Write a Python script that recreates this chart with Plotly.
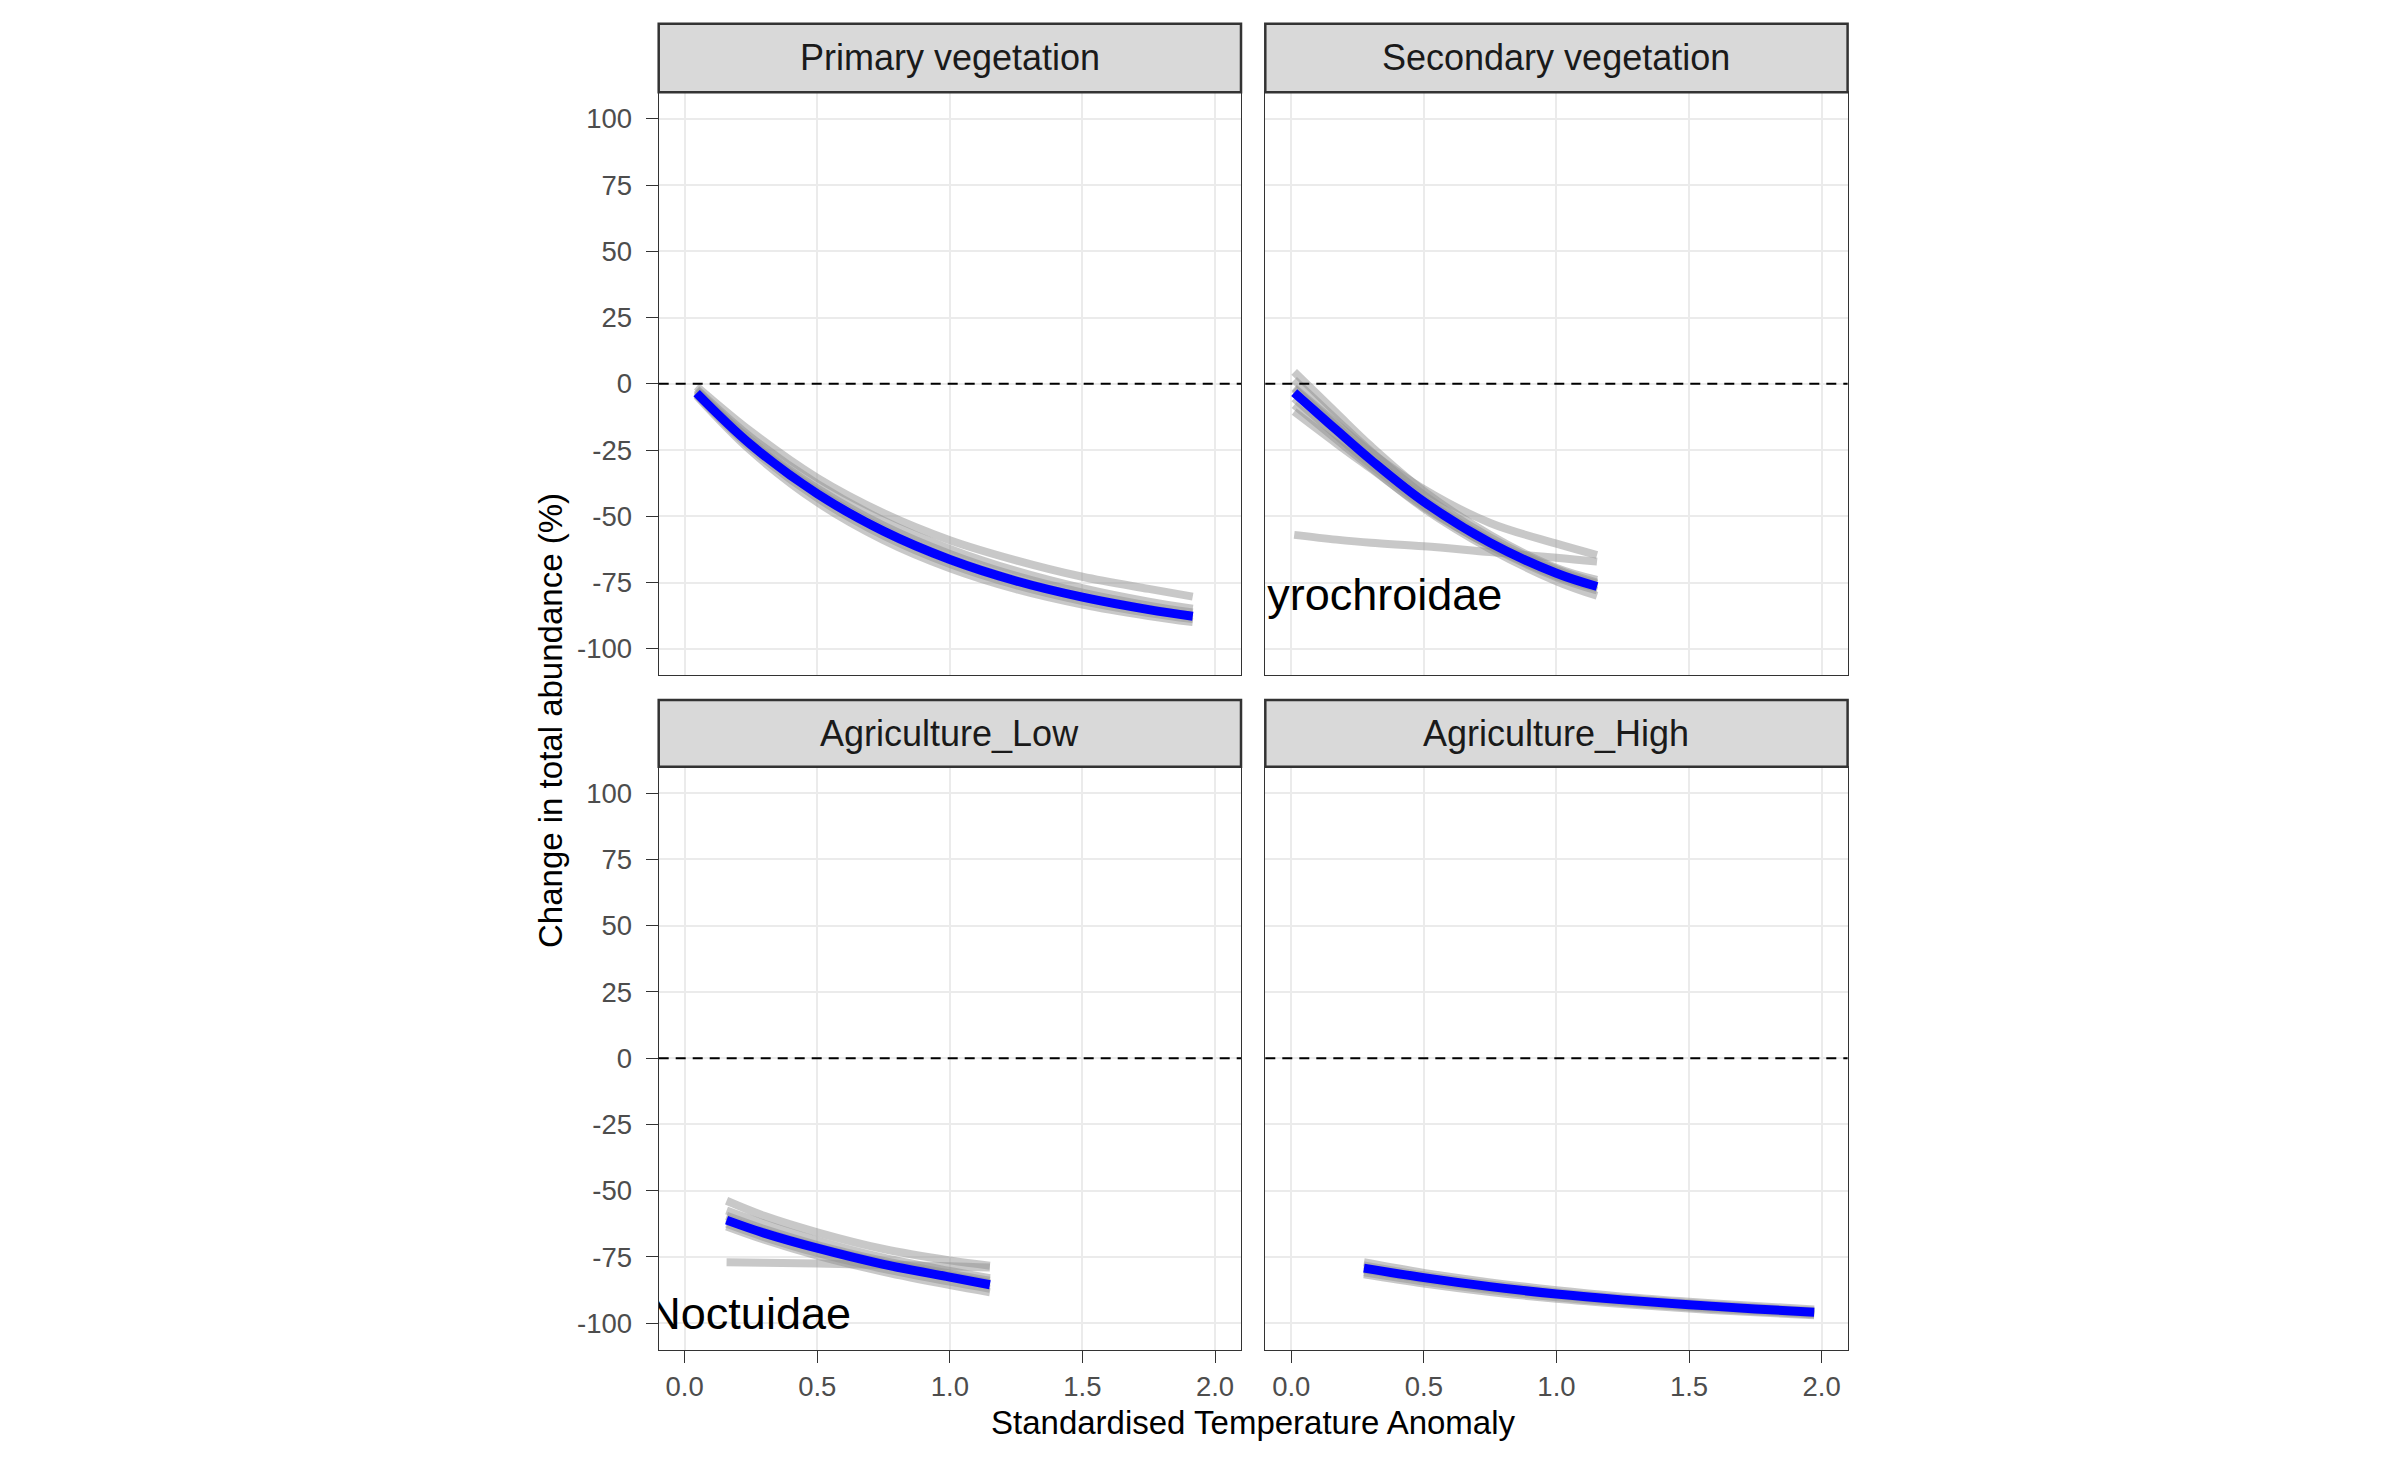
import plotly.graph_objects as go

# --- data ---
panels = ["Primary vegetation", "Secondary vegetation", "Agriculture_Low", "Agriculture_High"]

x_ticks = [0, 0.5, 1.0, 1.5, 2.0]
x_labels = ["0.0", "0.5", "1.0", "1.5", "2.0"]
y_ticks = [-100, -75, -50, -25, 0, 25, 50, 75, 100]
y_labels = ["-100", "-75", "-50", "-25", "0", "25", "50", "75", "100"]

prim_x = [0.045, 0.25, 0.5, 0.75, 1.0, 1.25, 1.5, 1.75, 1.916]
prim_blue = [-3.5, -23.0, -41.5, -55.6, -66.3, -74.4, -80.5, -85.2, -87.7]
prim_grey = [
    [-1.0, -18.0, -35.5, -48.8, -59.0, -66.6, -72.8, -77.4, -80.3],
    [-2.0, -20.2, -37.8, -51.6, -62.3, -70.6, -77.1, -82.2, -84.9],
    [-2.5, -21.4, -39.5, -53.5, -64.2, -72.5, -78.8, -83.7, -86.3],
    [-4.0, -24.2, -43.1, -57.3, -68.0, -76.0, -82.0, -86.5, -88.8],
    [-4.5, -25.3, -44.7, -59.0, -69.6, -77.5, -83.3, -87.6, -89.9],
    [-3.0, -22.0, -40.5, -54.8, -65.6, -73.9, -80.2, -85.0, -87.6],
]

sec_x = [0.011, 0.17, 0.3, 0.5, 0.75, 1.0, 1.153]
sec_blue = [-3.3, -17.4, -28.7, -44.5, -60.0, -71.5, -76.5]
sec_grey = [
    [-1.5, -15.0, -25.8, -39.8, -52.5, -60.3, -64.6],
    [-57.0, -58.8, -60.0, -61.3, -63.5, -65.6, -67.1],
    [4.5, -11.0, -23.5, -40.5, -57.0, -69.5, -74.0],
    [1.5, -13.5, -25.5, -42.0, -58.0, -70.0, -75.0],
    [-5.5, -19.5, -30.5, -46.0, -61.3, -73.0, -78.0],
    [-8.0, -21.0, -31.5, -47.0, -62.3, -74.5, -80.0],
    [-10.5, -22.5, -32.0, -46.5, -61.0, -72.5, -77.0],
    [-2.0, -16.0, -27.5, -43.5, -59.0, -70.5, -75.5],
]

low_x = [0.158, 0.3, 0.5, 0.75, 1.0, 1.151]
low_blue = [-61.1, -66.0, -71.7, -77.8, -82.6, -85.5]
low_grey = [
    [-53.8, -59.5, -65.7, -72.0, -76.3, -78.3],
    [-77.0, -77.2, -77.5, -78.0, -78.5, -79.0],
    [-57.5, -62.5, -68.8, -75.3, -80.3, -83.0],
    [-59.5, -64.5, -70.5, -76.5, -81.3, -84.0],
    [-62.5, -67.5, -73.5, -79.5, -84.3, -87.0],
    [-63.5, -68.5, -74.5, -80.6, -85.6, -88.3],
    [-60.5, -65.5, -71.3, -77.2, -82.0, -84.8],
]

high_x = [0.274, 0.5, 0.75, 1.0, 1.25, 1.5, 1.75, 1.972]
high_blue = [-79.2, -82.8, -86.2, -89.0, -91.2, -93.0, -94.6, -95.9]
high_grey = [
    [-77.0, -81.0, -84.6, -87.6, -90.0, -91.9, -93.5, -94.8],
    [-78.2, -82.0, -85.4, -88.3, -90.6, -92.5, -94.1, -95.4],
    [-80.8, -84.3, -87.5, -90.2, -92.3, -94.0, -95.5, -96.7],
    [-81.5, -85.0, -88.2, -90.8, -92.8, -94.5, -95.9, -97.0],
    [-79.8, -83.4, -86.8, -89.5, -91.7, -93.5, -95.0, -96.3],
]

label_text = ["Pyrochroidae", "Noctuidae"]
label_panel = [1, 2]
label_x = [0.296, 0.245]
label_y = [-81.3, -97.8]

# --- layout in window pixels (page body has an 8px margin) ---
W, H = 2385, 1465
OFF = 8
FW, FH = W - 2 * OFF, H - 2 * OFF
FONT = "Liberation Sans, Arial, sans-serif"
col_px = [(658.7, 1241.0), (1265.3, 1847.6)]
row_plot_px = [(92.3, 675.3), (766.7, 1349.7)]
row_strip_px = [(23.7, 92.3), (700.0, 766.7)]


def px_x(v):
    return (v - OFF) / FW


def px_y(v):
    return 1 - (v - OFF) / FH


series = [
    (prim_x, prim_blue, prim_grey),
    (sec_x, sec_blue, sec_grey),
    (low_x, low_blue, low_grey),
    (high_x, high_blue, high_grey),
]

fig = go.Figure()
shapes = []
annotations = []
tickfont = dict(family=FONT, size=27.5, color="#4D4D4D")

for i, name in enumerate(panels):
    r, c = divmod(i, 2)
    sfx = "" if i == 0 else str(i + 1)
    xs, blue, greys = series[i]
    for g in greys:
        fig.add_trace(go.Scatter(x=xs, y=g, mode="lines", xaxis="x" + sfx, yaxis="y" + sfx,
                                 line=dict(color="rgba(145,145,145,0.5)", width=8, shape="spline"),
                                 showlegend=False, hoverinfo="skip"))
    fig.add_trace(go.Scatter(x=xs, y=blue, mode="lines", xaxis="x" + sfx, yaxis="y" + sfx,
                             line=dict(color="#0000FF", width=9, shape="spline"),
                             showlegend=False, hoverinfo="skip"))

    x0, x1 = col_px[c]
    py0, py1 = row_plot_px[r]
    sy0, sy1 = row_strip_px[r]

    fig.update_layout({
        "xaxis" + sfx: dict(
            domain=[px_x(x0), px_x(x1)], anchor="y" + sfx, range=[-0.098, 2.098],
            tickvals=x_ticks, ticktext=x_labels, showticklabels=(r == 1),
            ticks="outside" if r == 1 else "", ticklen=12, tickwidth=1.3, tickcolor="#333333",
            showgrid=True, gridcolor="#EBEBEB", gridwidth=1.5, zeroline=False,
            showline=True, mirror=True, linecolor="#333333", linewidth=1.3,
            tickfont=tickfont),
        "yaxis" + sfx: dict(
            domain=[px_y(py1), px_y(py0)], anchor="x" + sfx, range=[-110, 110],
            tickvals=y_ticks, ticktext=y_labels, showticklabels=(c == 0),
            ticks="outside" if c == 0 else "", ticklen=12, tickwidth=1.3, tickcolor="#333333",
            ticklabelstandoff=8,
            showgrid=True, gridcolor="#EBEBEB", gridwidth=1.5, zeroline=False,
            showline=True, mirror=True, linecolor="#333333", linewidth=1.3,
            tickfont=tickfont),
    })

    # zero reference line
    shapes.append(dict(type="line", xref="x" + sfx + " domain", x0=0, x1=1,
                       yref="y" + sfx, y0=0, y1=0,
                       line=dict(color="black", width=2, dash="10px,7px")))
    # strip
    shapes.append(dict(type="rect", xref="paper", yref="paper",
                       x0=px_x(x0), x1=px_x(x1), y0=px_y(sy1), y1=px_y(sy0),
                       fillcolor="#D9D9D9", line=dict(color="#333333", width=2.5)))
    annotations.append(dict(text=name, xref="paper", yref="paper",
                            x=px_x((x0 + x1) / 2), y=px_y((sy0 + sy1) / 2),
                            xanchor="center", yanchor="middle", showarrow=False,
                            font=dict(family=FONT, size=36, color="#1A1A1A")))

# taxon labels, clipped by the panel like in the original
for t, p, lx, ly in zip(label_text, label_panel, label_x, label_y):
    sfx = "" if p == 0 else str(p + 1)
    fig.add_trace(go.Scatter(x=[lx], y=[ly], mode="text", text=[t], textposition="middle center",
                             xaxis="x" + sfx, yaxis="y" + sfx, cliponaxis=True,
                             textfont=dict(family=FONT, size=45, color="black"),
                             showlegend=False, hoverinfo="skip"))

# axis titles
annotations.append(dict(text="Standardised Temperature Anomaly", xref="paper", yref="paper",
                        x=px_x((col_px[0][0] + col_px[1][1]) / 2), y=px_y(1422),
                        xanchor="center", yanchor="middle", showarrow=False,
                        font=dict(family=FONT, size=33, color="black")))
annotations.append(dict(text="Change in total abundance (%)", xref="paper", yref="paper",
                        x=px_x(550), y=px_y(721), textangle=-90,
                        xanchor="center", yanchor="middle", showarrow=False,
                        font=dict(family=FONT, size=33, color="black")))

fig.update_layout(width=FW, height=FH, margin=dict(l=0, r=0, t=0, b=0),
                  paper_bgcolor="white", plot_bgcolor="white",
                  shapes=shapes, annotations=annotations, showlegend=False)

fig.write_html("out.html")
